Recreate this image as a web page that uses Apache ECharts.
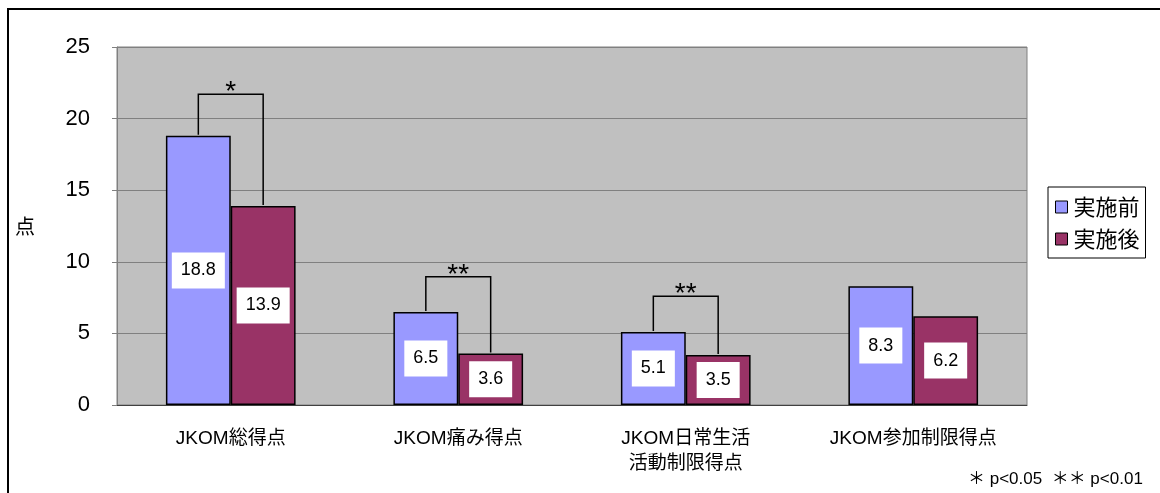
<!DOCTYPE html>
<html>
<head>
<meta charset="utf-8">
<script src="https://cdn.jsdelivr.net/npm/echarts@6/dist/echarts.min.js"></script>
<style>
  html, body { margin: 0; padding: 0; background: #fff; }
  #chart { width: 1160px; height: 493px; }
</style>
</head>
<body>
<div id="chart"></div>
<script>
// データ
const categories = ['JKOM総得点', 'JKOM痛み得点', 'JKOM日常生活\n活動制限得点', 'JKOM参加制限得点'];
const before = [18.8, 6.5, 5.1, 8.3];
const after = [13.9, 3.6, 3.5, 6.2];
// 有意差（カテゴリ番号, ブラケット上端の値, 記号）
const sigIndex = [0, 1, 2];
const sigTop = [21.7, 8.95, 7.6];
const sigMark = ['*', '**', '**'];
const yTicks = [0, 5, 10, 15, 20, 25];

const FONT = "Arial, 'Liberation Sans', 'Noto Sans CJK JP', sans-serif";
const BAR_FRAC = 0.285;

const chart = echarts.init(document.getElementById('chart'));

const sigData = sigIndex.map((c, i) => [c, sigTop[i], before[c], after[c], sigMark[i]]);

chart.setOption({
  animation: false,
  textStyle: { fontFamily: FONT, color: '#000' },
  grid: {
    left: 117, right: 133, top: 47, bottom: 88,
    show: true, backgroundColor: '#C0C0C0', borderColor: '#808080', borderWidth: 1
  },
  legend: {
    data: ['実施前', '実施後'],
    orient: 'vertical',
    left: 1048, top: 187,
    padding: [9, 6, 8, 7],
    itemGap: 10,
    itemWidth: 12, itemHeight: 12,
    borderColor: '#000', borderWidth: 1,
    icon: 'rect',
    itemStyle: { borderColor: '#000', borderWidth: 1 },
    textStyle: { fontSize: 22, fontFamily: "'Noto Sans CJK JP', sans-serif", color: '#000', padding: [0, 0, 0, 1] }
  },
  xAxis: {
    type: 'category',
    data: categories,
    axisTick: { show: false },
    axisLine: { lineStyle: { color: '#404040', width: 1 } },
    axisLabel: { margin: 21, fontSize: 19, lineHeight: 25, color: '#000', fontFamily: FONT }
  },
  yAxis: {
    type: 'value',
    min: 0, max: 25, interval: 5,
    name: '点',
    nameLocation: 'middle',
    nameRotate: 0,
    nameGap: 82,
    nameTextStyle: { fontSize: 20, color: '#000', fontFamily: "'Noto Sans CJK JP', sans-serif" },
    axisLine: { show: true, lineStyle: { color: '#808080' } },
    axisTick: { show: true, inside: false, length: 5, lineStyle: { color: '#808080' } },
    axisLabel: {
      margin: 27, fontSize: 22, color: '#000',
      formatter: v => yTicks.includes(v) ? String(v) : ''
    },
    splitLine: { lineStyle: { color: '#808080', width: 1 } }
  },
  series: [
    {
      name: '実施前', type: 'bar', data: before,
      barWidth: (BAR_FRAC * 100) + '%', barGap: '0%',
      itemStyle: { color: '#9999FF', borderColor: '#000', borderWidth: 1.5 },
      label: {
        show: true, position: 'inside', color: '#000', fontSize: 18,
        backgroundColor: '#fff', padding: [9, 9, 9, 9], fontFamily: FONT
      }
    },
    {
      name: '実施後', type: 'bar', data: after,
      barWidth: (BAR_FRAC * 100) + '%',
      itemStyle: { color: '#993366', borderColor: '#000', borderWidth: 1.5 },
      label: {
        show: true, position: 'inside', color: '#000', fontSize: 18,
        backgroundColor: '#fff', padding: [9, 9, 9, 9], fontFamily: FONT
      }
    },
    {
      type: 'custom',
      data: sigData,
      z: 5,
      silent: true,
      renderItem: (params, api) => {
        const c = api.value(0);
        const w = api.size([1, 0])[0] * BAR_FRAC;
        const top = api.coord([c, api.value(1)]);
        const b = api.coord([c, api.value(2)]);
        const a = api.coord([c, api.value(3)]);
        const xl = top[0] - w / 2;
        const xr = top[0] + w / 2;
        return {
          type: 'group',
          children: [
            {
              type: 'polyline',
              shape: { points: [[xl, b[1] - 1], [xl, top[1]], [xr, top[1]], [xr, a[1] - 1]] },
              style: { stroke: '#000', lineWidth: 1.5, fill: null }
            },
            {
              type: 'text',
              style: {
                text: sigData[params.dataIndex][4],
                x: top[0], y: top[1] + 12,
                align: 'center', verticalAlign: 'bottom',
                fontSize: 28, fontFamily: FONT, fill: '#000'
              }
            }
          ]
        };
      }
    }
  ],
  graphic: [
    {
      type: 'rect',
      shape: { x: 8, y: 9, width: 1300, height: 700 },
      style: { fill: null, stroke: '#000', lineWidth: 2 },
      silent: true
    },
    {
      type: 'text',
      left: 968, top: 471,
      style: { text: '＊ p<0.05  ＊＊ p<0.01', fontSize: 17, fontFamily: FONT, fill: '#000' }
    }
  ]
});
</script>
</body>
</html>
